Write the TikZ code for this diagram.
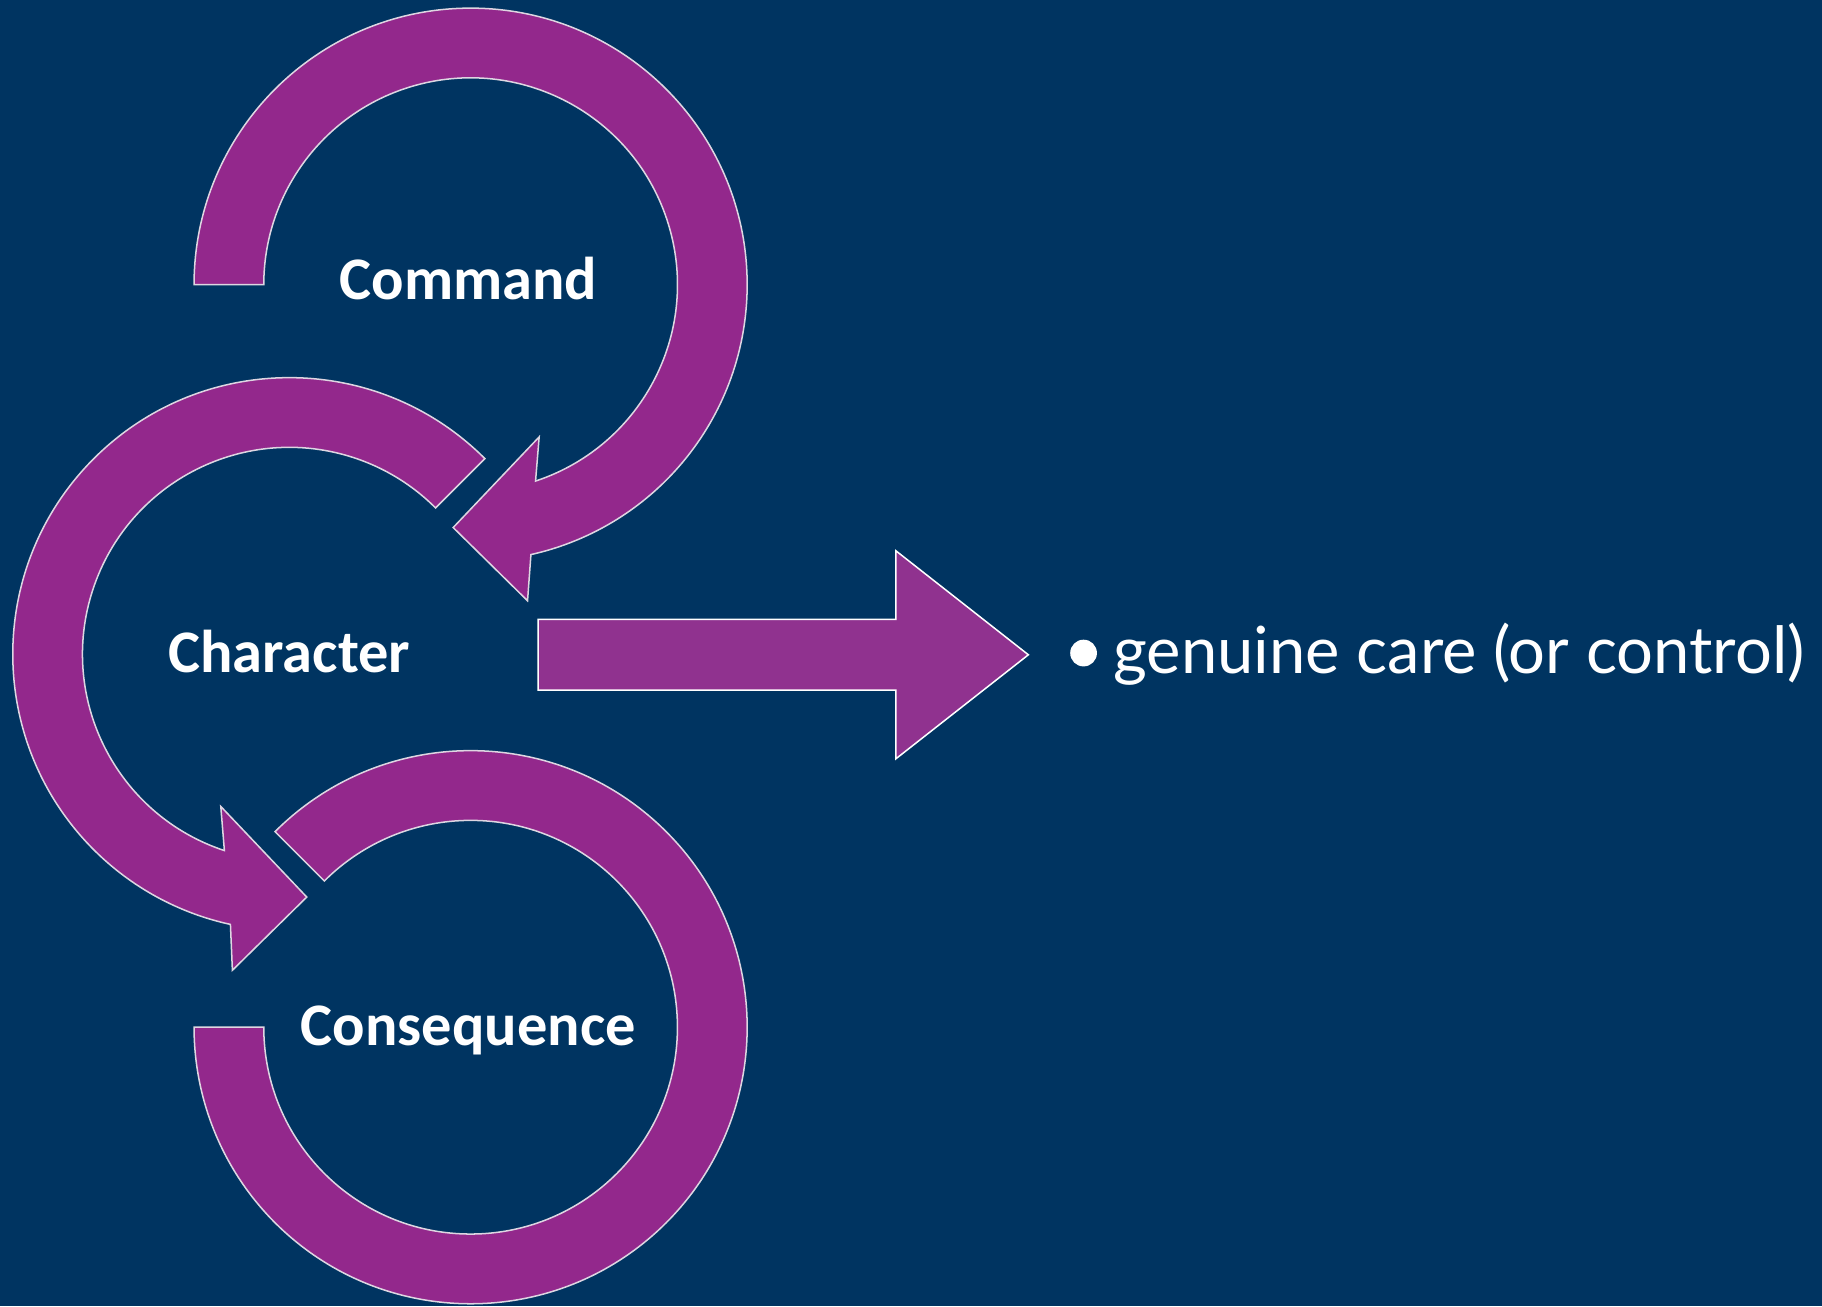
\documentclass[tikz,border=0pt]{standalone}
\usepackage{fontspec}
\setmainfont{Carlito}
\newfontfamily\carefont{Lato}
\usepackage{tikz}
\usepackage{xcolor}
\definecolor{ColBg}{RGB}{0,52,97}
\definecolor{ColA}{RGB}{147,40,140}
\definecolor{ColB}{RGB}{144,50,143}
\definecolor{ColEdge}{RGB}{222,214,226}
\tikzstyle{RingArrow}=[fill=ColA,draw=ColEdge,line width=1.3pt,line join=miter]
\tikzstyle{BlockArrow}=[fill=ColB,draw=white,line width=1.3pt]
\tikzstyle{LabelRing}=[text=white,inner sep=0pt,anchor=base,
font=\fontsize{52}{60}\selectfont\bfseries]
\tikzstyle{LabelCare}=[text=white,inner sep=0pt,anchor=base west,
font=\carefont\fontsize{56}{64}\selectfont]

\begin{document}
\begin{tikzpicture}[x=1pt,y=1pt]
        \fill[ColBg](0,0)rectangle(1568,-1124);
        \useasboundingbox(0,0)rectangle(1568,-1124);
        \begin{scope}[shift={(405,-245)}]
        \draw[RingArrow](180:238)arc[start angle=180,end angle=-77.4,radius=238]--(49,-272)--(-15,-209)
            --(59,-131)--(-71.7:178)arc[start angle=-71.7,end angle=180,radius=178]--cycle;
        \node[LabelRing](cmd)at(-2,-13){Command};
        \end{scope}
        \begin{scope}[shift={(249,-563)}]
        \draw[RingArrow](45:238)arc[start angle=45,end angle=257.7,radius=238]--(-49,-272)--(15,-209)
            --(-59,-131)--(251.7:178)arc[start angle=251.7,end angle=45,radius=178]--cycle;
        \node[LabelRing](chr)at(0,-16){Character};
        \end{scope}
        \begin{scope}[shift={(405,-884)}]
        \draw[RingArrow](135:238)arc[start angle=135,end angle=-180,radius=238]--(-178,0)
            arc[start angle=-180,end angle=135,radius=178]--cycle;
        \node[LabelRing](cons)at(-2,-16){Consequence};
        \end{scope}
        \draw[BlockArrow](463,-533)--(771,-533)--(771,-474)--(885,-563.5)--(771,-653)--(771,-594)--(463,-594)--cycle;
        \node[circle,fill=white,inner sep=0pt,minimum size=23pt](dot)at(932.5,-562){};
        \node[LabelCare](care)at(958,-580){genuine care (or control)};
    \end{tikzpicture}
\end{document}
